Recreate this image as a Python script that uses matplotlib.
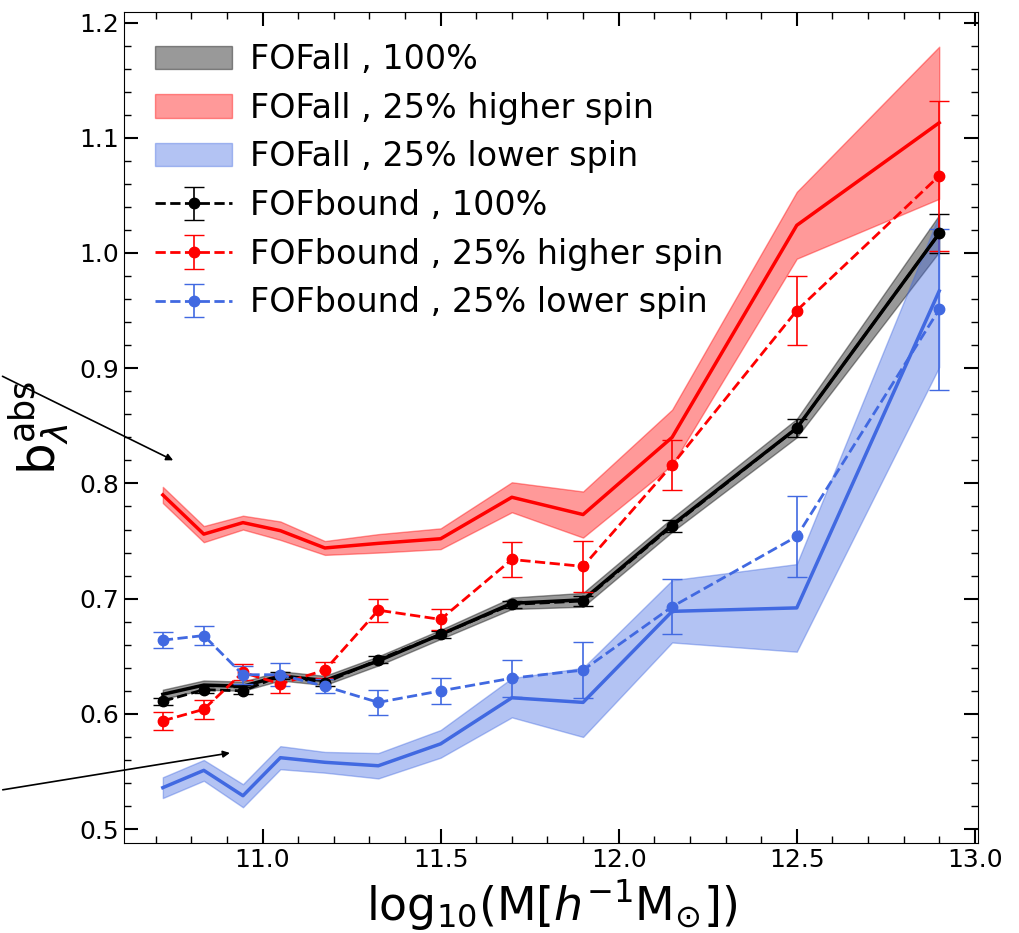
import numpy as np
import matplotlib
matplotlib.use("Agg")
import matplotlib.pyplot as plt

# halo mass bins
logM = [10.72, 10.835, 10.945, 11.05, 11.175, 11.325, 11.5, 11.7, 11.9, 12.15, 12.5, 12.9]

# FOFall bands (central value and half width)
all_100 = [0.617, 0.625, 0.624, 0.633, 0.629, 0.646, 0.669, 0.696, 0.699, 0.764, 0.848, 1.017]
all_100_err = [0.004, 0.004, 0.004, 0.004, 0.004, 0.004, 0.004, 0.005, 0.006, 0.006, 0.008, 0.016]
all_hi = [0.790, 0.756, 0.766, 0.759, 0.744, 0.748, 0.752, 0.788, 0.773, 0.840, 1.024, 1.113]
all_hi_err = [0.007, 0.007, 0.006, 0.008, 0.006, 0.008, 0.009, 0.013, 0.020, 0.024, 0.029, 0.066]
all_lo = [0.536, 0.551, 0.529, 0.562, 0.558, 0.555, 0.574, 0.614, 0.610, 0.689, 0.692, 0.967]
all_lo_err = [0.009, 0.009, 0.010, 0.010, 0.009, 0.011, 0.012, 0.017, 0.030, 0.027, 0.038, 0.066]

# FOFbound points with errors
bnd_100 = [0.611, 0.621, 0.620, 0.633, 0.627, 0.647, 0.669, 0.695, 0.698, 0.763, 0.848, 1.017]
bnd_100_err = [0.003, 0.003, 0.003, 0.003, 0.003, 0.003, 0.003, 0.003, 0.004, 0.005, 0.008, 0.017]
bnd_hi = [0.594, 0.604, 0.636, 0.626, 0.638, 0.690, 0.682, 0.734, 0.728, 0.816, 0.950, 1.067]
bnd_hi_err = [0.008, 0.008, 0.007, 0.008, 0.007, 0.010, 0.009, 0.015, 0.022, 0.022, 0.030, 0.065]
bnd_lo = [0.664, 0.668, 0.634, 0.634, 0.624, 0.610, 0.620, 0.631, 0.638, 0.693, 0.754, 0.951]
bnd_lo_err = [0.007, 0.008, 0.008, 0.010, 0.006, 0.011, 0.011, 0.016, 0.024, 0.024, 0.035, 0.070]

x = np.array(logM)

fig = plt.figure(figsize=(10.19, 9.33), dpi=100)
ax = fig.add_axes([0.1217, 0.0965, 0.8381, 0.8905])

sets = [
    (all_100, all_100_err, "black", "FOFall , 100%"),
    (all_hi, all_hi_err, "red", "FOFall , 25% higher spin"),
    (all_lo, all_lo_err, "royalblue", "FOFall , 25% lower spin"),
]
handles = []
for y, e, c, lab in sets:
    y = np.array(y)
    e = np.array(e)
    h = ax.fill_between(x, y - e, y + e, color=c, alpha=0.4, label=lab)
    ax.plot(x, y, color=c, lw=2.5)
    handles.append(h)

bsets = [
    (bnd_100, bnd_100_err, "black", "FOFbound , 100%"),
    (bnd_hi, bnd_hi_err, "red", "FOFbound , 25% higher spin"),
    (bnd_lo, bnd_lo_err, "royalblue", "FOFbound , 25% lower spin"),
]
for y, e, c, lab in bsets:
    h = ax.errorbar(x, y, yerr=e, color=c, ls="--", lw=2, marker="o", ms=7.5,
                    capsize=7, elinewidth=1.2, label=lab)
    handles.append(h)

ax.legend(handles=handles, loc="upper left", fontsize=24, frameon=False,
          handlelength=2.3, handletextpad=0.55, labelspacing=0.47,
          borderaxespad=0, bbox_to_anchor=(0.021, 0.979))

ax.set_ylim(0.488, 1.209)
ax.set_xlabel(r"log$_{10}$(M[$h^{-1}$M$_{\odot}$])", fontsize=33)
ax.set_ylabel(r"b$_{\lambda}^{\rm abs}$", fontsize=36, labelpad=6)
ax.minorticks_on()
ax.tick_params(which="both", direction="in", top=True, right=True, labelsize=18)
ax.tick_params(which="major", length=10, width=1.5)
ax.tick_params(which="minor", length=5, width=1)

# arrows pointing in from outside the axes
ax.annotate("", xy=(10.756, 0.819), xytext=(0.0, 0.598), textcoords="figure fraction",
            arrowprops=dict(arrowstyle="-|>", color="black", lw=1.2), annotation_clip=False)
ax.annotate("", xy=(10.916, 0.5665), xytext=(0.0, 0.153), textcoords="figure fraction",
            arrowprops=dict(arrowstyle="-|>", color="black", lw=1.2), annotation_clip=False)

fig.savefig("out.png", dpi=100)
